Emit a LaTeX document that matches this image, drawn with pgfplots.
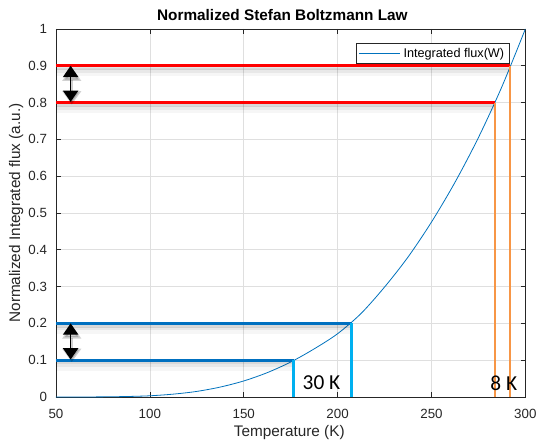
\documentclass[border=0pt]{standalone}
\usepackage{pgfplots}
\pgfplotsset{compat=1.18}
\usepackage{fontspec}
\setmainfont{Liberation Sans}
\newfontfamily\calib{Carlito}
\usetikzlibrary{arrows.meta}
\definecolor{mblue}{RGB}{0,114,189}
\definecolor{dblue}{RGB}{0,112,192}
\definecolor{lblue}{RGB}{0,176,240}
\definecolor{morange}{RGB}{247,150,70}
\definecolor{axgray}{RGB}{38,38,38}
\definecolor{gridgray}{RGB}{223,223,223}
\begin{document}
\begin{tikzpicture}
\path[use as bounding box] (-42pt,-34.5pt) rectangle (360pt,297.75pt);
\begin{axis}[
  scale only axis, width=352pt, height=276pt,
  xmin=50, xmax=300, ymin=0, ymax=1,
  xtick={50,100,150,200,250,300},
  ytick={0,0.1,0.2,0.3,0.4,0.5,0.6,0.7,0.8,0.9,1},
  yticklabels={0,0.1,0.2,0.3,0.4,0.5,0.6,0.7,0.8,0.9,1},
  xticklabels={50,100,150,200,250,300},
  grid=major, major grid style={gridgray, line width=0.5pt},
  axis line style={axgray, line width=0.5pt},
  tick style={axgray, line width=0.5pt},
  major tick length=3.5pt,
  tick align=inside,
  /pgf/number format/assume math mode=true,
  ticklabel style={font=\fontsize{10}{12}\selectfont, text=axgray},
  xticklabel style={yshift=-5.5pt},
  yticklabel style={xshift=-3.2pt},
  title={Normalized Stefan Boltzmann Law},
  every axis title/.style={font=\fontsize{11.5}{13}\selectfont\bfseries, at={(axis description cs:0.4824,1.038)}, anchor=center},
  xlabel={Temperature (K)},
  xlabel style={font=\fontsize{11.5}{13}\selectfont, text=axgray, at={(axis description cs:0.497,-0.0967)}, anchor=center},
  ylabel={Normalized Integrated flux (a.u.)},
  ylabel style={font=\fontsize{11.5}{13}\selectfont, text=axgray, at={(axis description cs:-0.085,0.5)}, anchor=center},
  legend style={at={(axis description cs:0.967,0.962)}, anchor=north east, draw=axgray, line width=0.5pt, font=\fontsize{9.5}{11}\selectfont, inner xsep=2pt, inner ysep=1.5pt},
  legend cell align=left,
  legend image code/.code={\draw[#1] (0pt,0pt) -- (31pt,0pt);},
]
% main curve
\addplot[mblue, line width=0.6pt, smooth] coordinates {
 (50,0) (62.5,0.0001) (75,0.0004) (87.5,0.0013) (100,0.0033) (112.5,0.0078)
 (125,0.0152) (137.5,0.027) (150,0.0436) (162.5,0.0661) (175,0.0949)
 (187.5,0.1307) (200,0.172) (212.5,0.227) (225,0.2987) (237.5,0.3802)
 (250,0.4753) (262.5,0.5831) (275,0.7048) (287.5,0.843) (300,1)};
\addlegendentry{Integrated flux(W)}

% shadows of horizontal lines
\foreach \yy/\xe in {0.9/292, 0.8/283.6, 0.2/207.5, 0.1/176.6} {
  \edef\tmp{\noexpand\addplot[black, opacity=0.10, line width=3pt, forget plot] coordinates {(50,\yy-0.006) (\xe,\yy-0.006)};}\tmp
  \edef\tmp{\noexpand\addplot[black, opacity=0.06, line width=4pt, forget plot] coordinates {(50,\yy-0.012) (\xe,\yy-0.012)};}\tmp
  \edef\tmp{\noexpand\addplot[black, opacity=0.035, line width=5pt, forget plot] coordinates {(50,\yy-0.019) (\xe,\yy-0.019)};}\tmp
}

% red horizontal lines
\addplot[red, line width=2.2pt, forget plot] coordinates {(50,0.9) (292,0.9)};
\addplot[red, line width=2.2pt, forget plot] coordinates {(50,0.8) (283.6,0.8)};
% orange verticals
\addplot[morange, line width=1.5pt, forget plot] coordinates {(283.6,0) (283.6,0.8)};
\addplot[morange, line width=1.5pt, forget plot] coordinates {(292,0) (292,0.9)};
% blue horizontals
\addplot[dblue, line width=2.2pt, forget plot] coordinates {(50,0.2) (207.5,0.2)};
\addplot[dblue, line width=2.2pt, forget plot] coordinates {(50,0.1) (176.6,0.1)};
% light blue verticals
\addplot[lblue, line width=2pt, forget plot] coordinates {(176.6,0) (176.6,0.1)};
\addplot[lblue, line width=2pt, forget plot] coordinates {(207.5,0) (207.5,0.2)};

% arrow shadows
\addplot[black, opacity=0.18, line width=2pt, {Triangle[width=14pt,length=10pt]}-{Triangle[width=14pt,length=10pt]}, forget plot] coordinates {(58.4,0.795) (58.4,0.895)};
\addplot[black, opacity=0.18, line width=2pt, {Triangle[width=14pt,length=10pt]}-{Triangle[width=14pt,length=10pt]}, forget plot] coordinates {(58.4,0.095) (58.4,0.195)};
% arrows
\addplot[black, line width=1pt, {Triangle[width=11.5pt,length=8.5pt]}-{Triangle[width=11.5pt,length=8.5pt]}, forget plot] coordinates {(57.8,0.802) (57.8,0.9)};
\addplot[black, line width=1pt, {Triangle[width=11.5pt,length=8.5pt]}-{Triangle[width=11.5pt,length=8.5pt]}, forget plot] coordinates {(57.8,0.102) (57.8,0.2)};

\node[font=\calib\fontsize{16}{18}\selectfont, inner sep=0pt] at (axis cs:191.4,0.038) {30 K};
\node[font=\calib\fontsize{16}{18}\selectfont, inner sep=0pt] at (axis cs:288.5,0.037) {8 K};
\end{axis}
\end{tikzpicture}
\end{document}
